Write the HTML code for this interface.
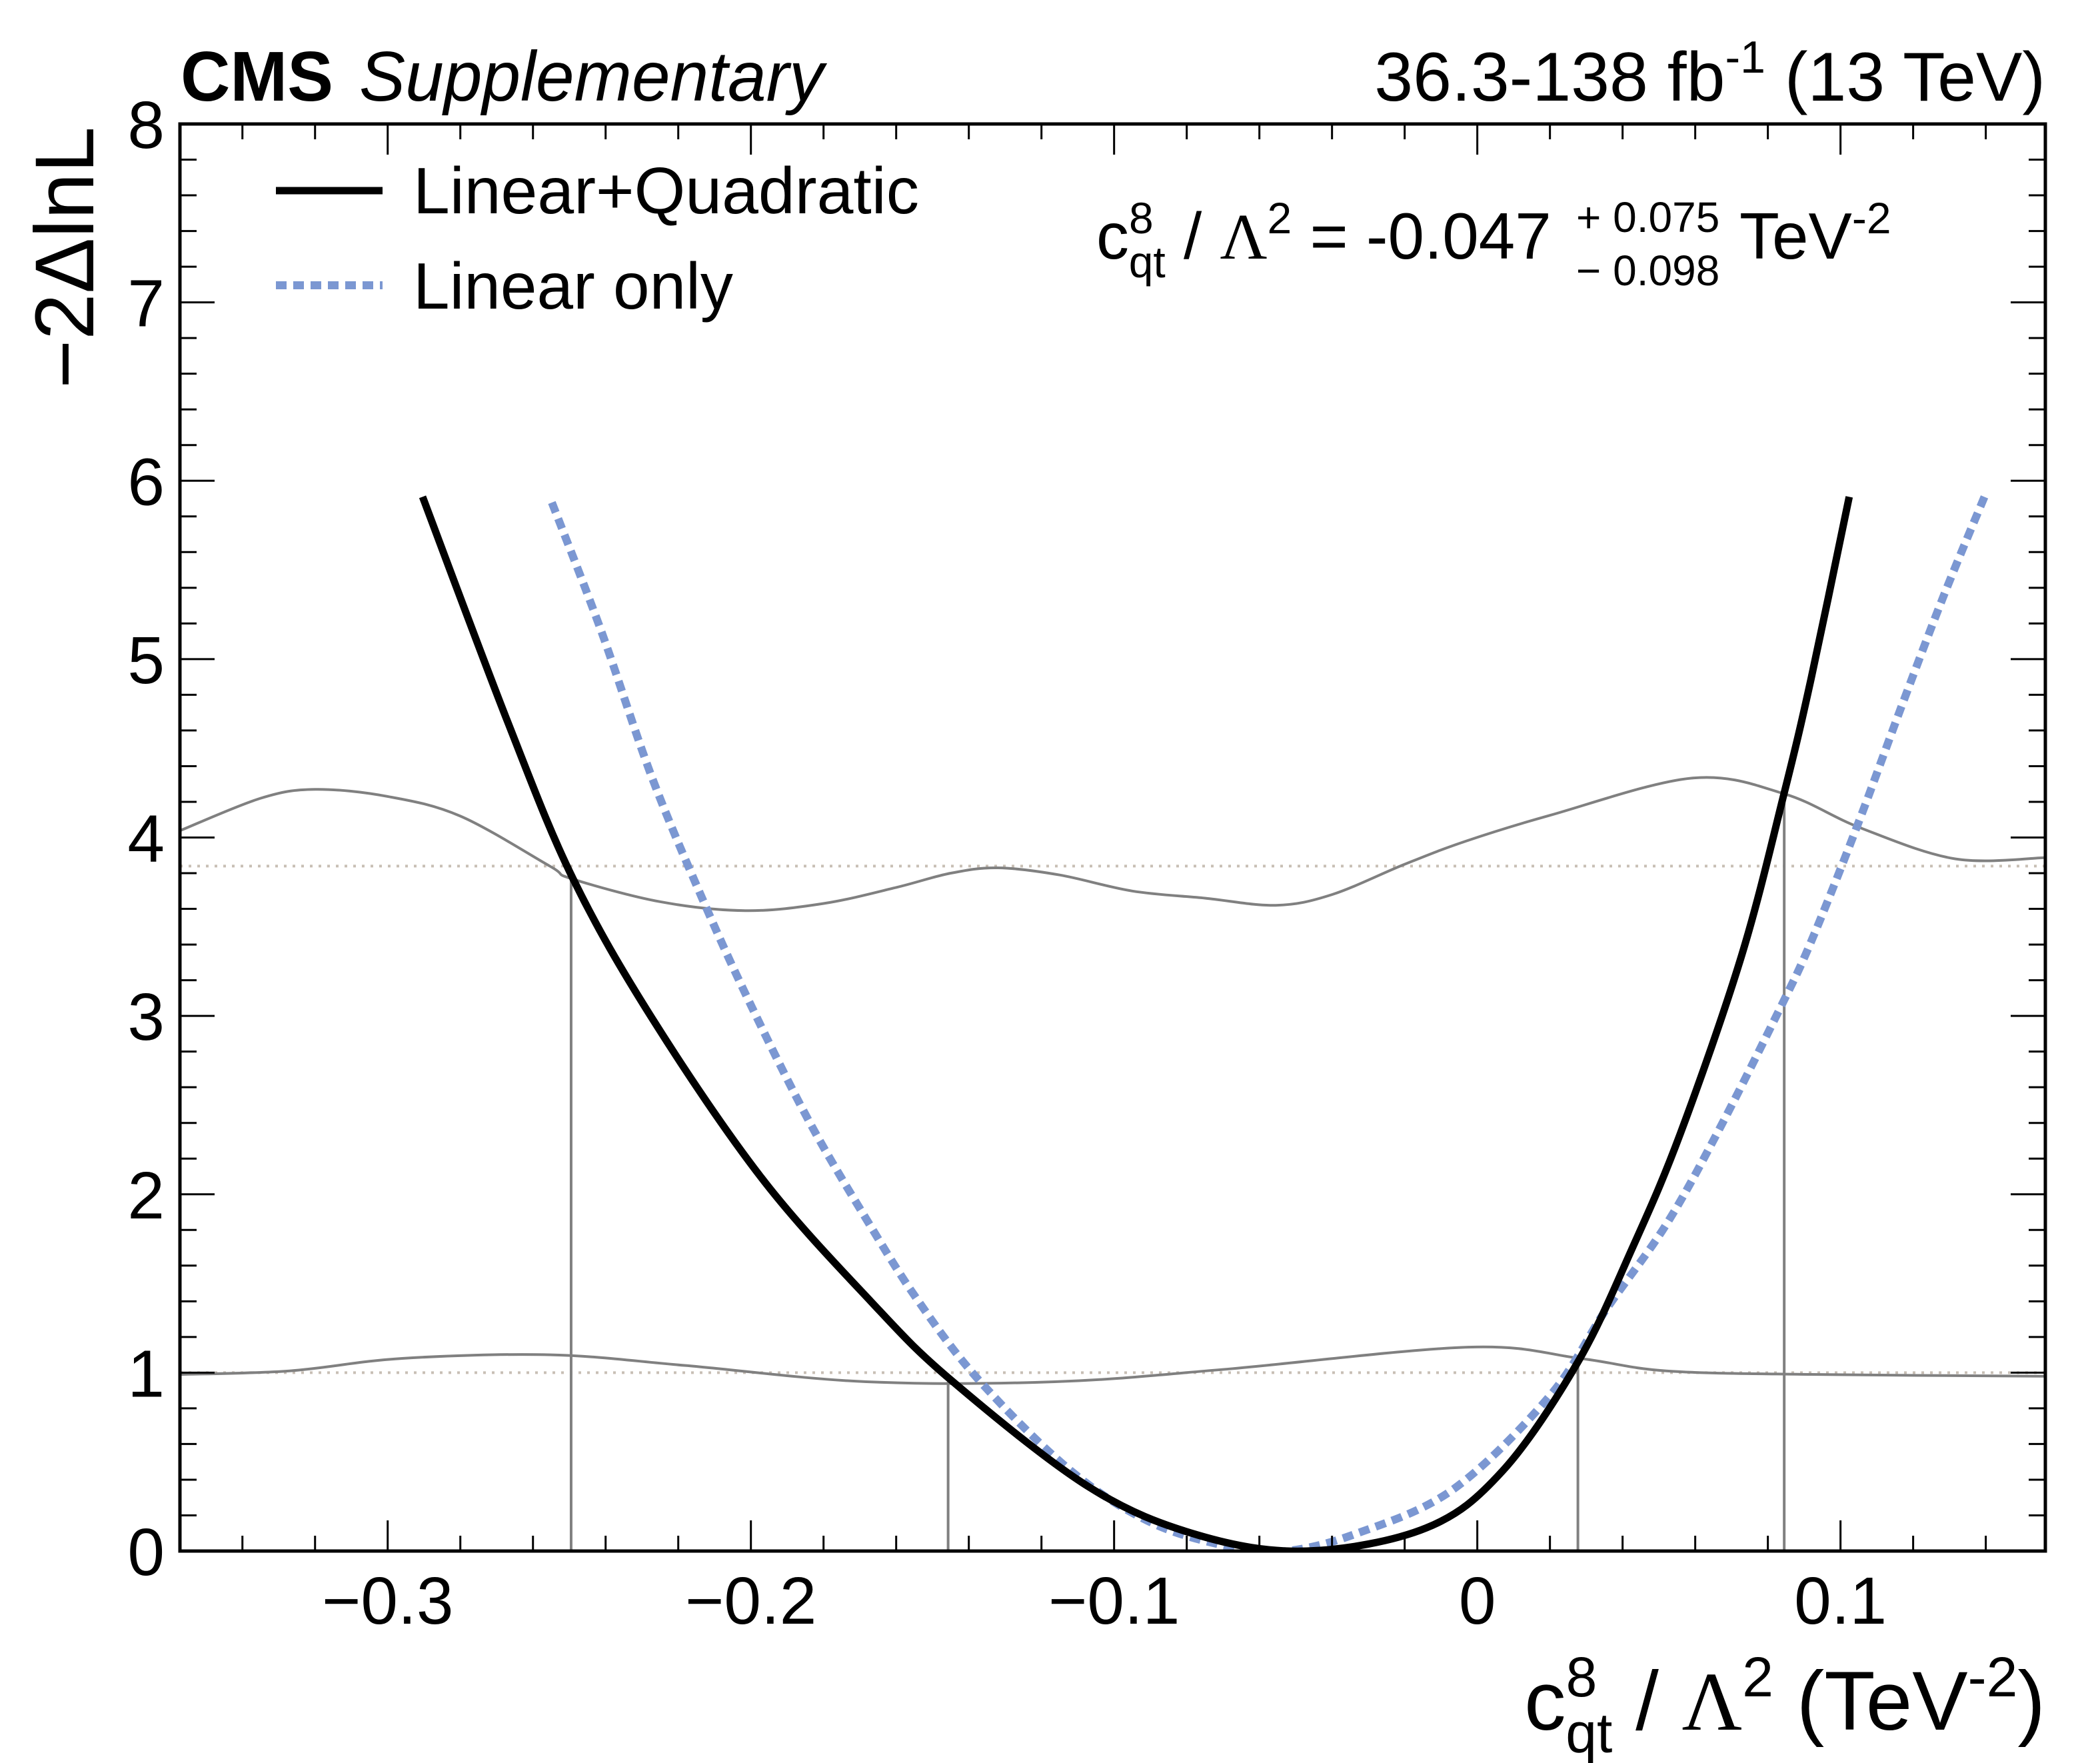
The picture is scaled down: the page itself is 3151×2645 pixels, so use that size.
<!DOCTYPE html>
<html><head><meta charset="utf-8"><style>
html,body{margin:0;padding:0;background:#fff;}
svg{display:block;}
text{font-family:"Liberation Sans",sans-serif;fill:#000;}
</style></head><body>
<svg id="chart" width="3151" height="2645" viewBox="0 0 3151 2645" xmlns="http://www.w3.org/2000/svg">
<defs><clipPath id="plotclip"><rect x="270" y="186" width="2799" height="2141"/></clipPath></defs>
<g id="marks" clip-path="url(#plotclip)"></g>
<g id="axes"></g>
<text x="271" y="151" font-size="106" font-weight="bold" textLength="229" lengthAdjust="spacingAndGlyphs">CMS</text>
<text x="539" y="151" font-size="106" font-style="italic" textLength="697" lengthAdjust="spacingAndGlyphs">Supplementary</text>
<text x="3069" y="151" font-size="104" text-anchor="end">36.3-138 fb<tspan dy="-42" font-size="68">-1</tspan><tspan dy="42"> (13 TeV)</tspan></text>
<line x1="414" y1="286" x2="574" y2="286" stroke="#000" stroke-width="11"/>
<text x="620" y="320" font-size="98" textLength="759" lengthAdjust="spacingAndGlyphs">Linear+Quadratic</text>
<line x1="414" y1="428" x2="574" y2="428" stroke="#7b97d2" stroke-width="12" stroke-dasharray="16,10"/>
<text x="620" y="463" font-size="98" textLength="480" lengthAdjust="spacingAndGlyphs">Linear only</text>
<g>
<text x="1645" y="388" font-size="98">c<tspan dy="-38" font-size="66">8</tspan><tspan dx="-37" dy="66" font-size="66">qt</tspan><tspan dy="-28"> / </tspan><tspan font-family="Liberation Serif">Λ</tspan><tspan dy="-38" font-size="66">2</tspan><tspan dy="38"> = -0.047</tspan></text>
<text x="2365" y="348" font-size="64">+ 0.075</text>
<text x="2365" y="428" font-size="64">− 0.098</text>
<text x="2610" y="388" font-size="98">TeV<tspan dy="-38" font-size="66">-2</tspan></text>
</g>
<text x="3069" y="2595" font-size="125" text-anchor="end">c<tspan dy="-50" font-size="84">8</tspan><tspan dx="-47" dy="84" font-size="84">qt</tspan><tspan dy="-34"> / </tspan><tspan font-family="Liberation Serif">Λ</tspan><tspan dy="-50" font-size="84">2</tspan><tspan dy="50"> (TeV</tspan><tspan dy="-50" font-size="84">-2</tspan><tspan dy="50">)</tspan></text>
<text transform="translate(140,190) rotate(-90)" font-size="125" text-anchor="end">−2ΔlnL</text>
</svg>
<script>
const xTicks = [-0.3, -0.2, -0.1, 0, 0.1];
const xTickLabels = ["−0.3", "−0.2", "−0.1", "0", "0.1"];
const yTicks = [0, 1, 2, 3, 4, 5, 6, 7, 8];
const yTickLabels = ["0", "1", "2", "3", "4", "5", "6", "7", "8"];
const quadX = [-0.2904,-0.267,-0.249,-0.227,-0.197,-0.167,-0.145,-0.107,-0.077,-0.047,-0.014,0.007,0.0277,0.0425,0.0559,0.0728,0.0845,0.0919,0.1024];
const quadY = [5.91,4.65,3.77,2.98,2.09,1.40,0.96,0.36,0.09,0.0,0.13,0.45,1.06,1.69,2.34,3.34,4.25,4.89,5.91];
const linX = [-0.2548,-0.2413,-0.2273,-0.2132,-0.2004,-0.1840,-0.1682,-0.1542,-0.1373,-0.1121,-0.0896,-0.0671,-0.0525,-0.0334,-0.0067,0.0200,0.0354,0.0520,0.0665,0.0833,0.0918,0.1044,0.1170,0.1286,0.1397];
const linY = [5.878,5.163,4.34,3.649,3.077,2.41,1.86,1.41,0.96,0.453,0.158,0.02,0.0,0.097,0.345,0.871,1.352,1.83,2.36,3.04,3.411,4.054,4.746,5.365,5.913];
const up2X = [-0.357,-0.335,-0.32,-0.30,-0.28,-0.2554,-0.2495,-0.225,-0.2015,-0.18,-0.16,-0.145,-0.132,-0.115,-0.095,-0.075,-0.0555,-0.04,-0.02,-0.0031,0.0201,0.0591,0.0845,0.1055,0.1317,0.157];
const up2Y = [4.04,4.22,4.27,4.23,4.12,3.84,3.77,3.64,3.59,3.63,3.72,3.80,3.83,3.79,3.70,3.66,3.62,3.68,3.85,3.98,4.125,4.333,4.245,4.054,3.88,3.888];
const lo1X = [-0.357,-0.327,-0.296,-0.255,-0.218,-0.1682,-0.1163,-0.070,-0.0025,0.0283,0.052,0.092,0.157];
const lo1Y = [0.99,1.01,1.08,1.10,1.04,0.949,0.949,1.018,1.143,1.08,1.01,0.99,0.98];
const refLevels = [1, 3.84];
const intervalX = [-0.2495, -0.1457, 0.0277, 0.0845];
const intervalTop = [3.77, 0.949, 1.08, 4.245];

const L=270,R=3069,T=186,B=2327, XMIN=-0.3572, XMAX=0.1564, YMIN=0, YMAX=8;
const sx = v => L + (v-XMIN)/(XMAX-XMIN)*(R-L);
const sy = v => B - (v-YMIN)/(YMAX-YMIN)*(B-T);
const NS="http://www.w3.org/2000/svg";
const marks=document.getElementById('marks'), axes=document.getElementById('axes');
function mk(tag, attrs, parent){const e=document.createElementNS(NS,tag);for(const k in attrs)e.setAttribute(k,attrs[k]);parent.appendChild(e);return e;}
function smooth(xs, ys){
  const p=xs.map((x,i)=>[sx(x),sy(ys[i])]);
  let d=`M${p[0][0]},${p[0][1]}`;
  for(let i=0;i<p.length-1;i++){
    const p0=p[Math.max(0,i-1)],p1=p[i],p2=p[i+1],p3=p[Math.min(p.length-1,i+2)];
    const c1=[p1[0]+(p2[0]-p0[0])/6,p1[1]+(p2[1]-p0[1])/6];
    const c2=[p2[0]-(p3[0]-p1[0])/6,p2[1]-(p3[1]-p1[1])/6];
    d+=` C${c1[0]},${c1[1]} ${c2[0]},${c2[1]} ${p2[0]},${p2[1]}`;
  }
  return d;
}
refLevels.forEach((v,i)=>{
  const ln=mk('line',{x1:L,x2:R,y1:sy(v),y2:sy(v),stroke:'#c8bfb5','stroke-width':4,'stroke-dasharray':'4,9'},marks);
  
  
});
const g1=mk('path',{d:smooth(lo1X,lo1Y),fill:'none',stroke:'#808080','stroke-width':4},marks);


const g2=mk('path',{d:smooth(up2X,up2Y),fill:'none',stroke:'#808080','stroke-width':4},marks);


intervalX.forEach((v,i)=>{
  const ln=mk('line',{x1:sx(v),x2:sx(v),y1:sy(0),y2:sy(intervalTop[i]),stroke:'#808080','stroke-width':4},marks);
  
  
});
const bl=mk('path',{d:smooth(linX,linY),fill:'none',stroke:'#7b97d2','stroke-width':12,'stroke-dasharray':'16,10'},marks);


const bk=mk('path',{d:smooth(quadX,quadY),fill:'none',stroke:'#000','stroke-width':11},marks);



const fr=mk('rect',{x:L,y:T,width:R-L,height:B-T,fill:'none',stroke:'#000','stroke-width':5},axes);


for(let k=-18;k<=8;k++){
  const v=k*0.02; if(v<XMIN||v>XMAX) continue;
  const major=Math.abs(k%5)===0, len=major?46:23, x=sx(v);
  mk('line',{x1:x,x2:x,y1:B,y2:B-len,stroke:'#000','stroke-width':3},axes);
  mk('line',{x1:x,x2:x,y1:T,y2:T+len,stroke:'#000','stroke-width':3},axes);
}
xTicks.forEach((v,i)=>{
  const t=mk('text',{x:sx(v),y:2436,'font-size':100,'text-anchor':'middle'},axes);
  t.textContent=xTickLabels[i];
  
  
});
for(let k=0;k<=40;k++){
  const v=k*0.2, major=k%5===0, len=major?52:25, y=sy(v);
  mk('line',{x1:L,x2:L+len,y1:y,y2:y,stroke:'#000','stroke-width':3},axes);
  mk('line',{x1:R,x2:R-len,y1:y,y2:y,stroke:'#000','stroke-width':3},axes);
}
yTicks.forEach((v,i)=>{
  const t=mk('text',{x:247,y:sy(v)+36,'font-size':100,'text-anchor':'end'},axes);
  t.textContent=yTickLabels[i];
  
  
});
</script>
</body></html>
